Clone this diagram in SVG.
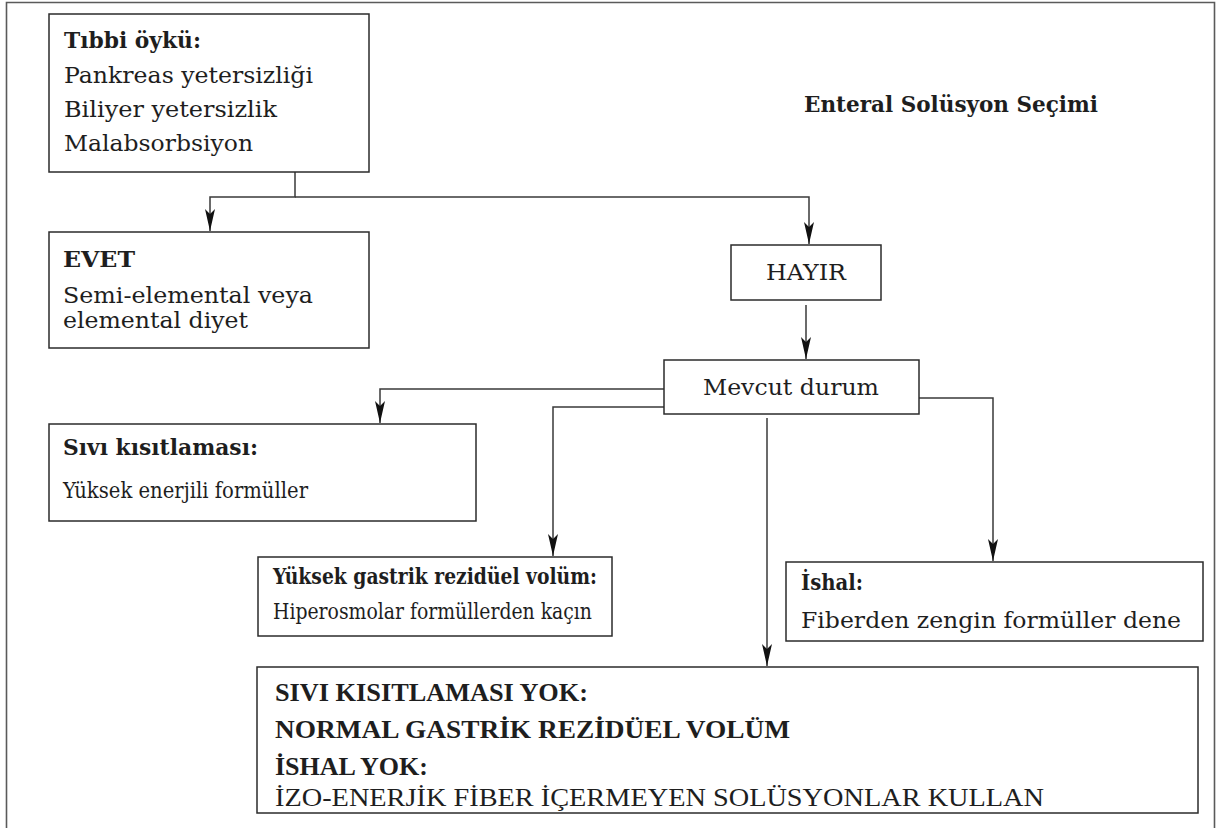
<svg xmlns="http://www.w3.org/2000/svg" width="1217" height="828" viewBox="0 0 1217 828">
  <defs>
    <style>
      .box { fill: #ffffff; stroke: #2b2b2b; stroke-width: 1.5; }
      .frame { fill: none; stroke: #5a5a5a; stroke-width: 1.6; }
      .conn { fill: none; stroke: #3a3a3a; stroke-width: 1.5; }
      .t { font-family: "DejaVu Serif", "Liberation Serif", serif; font-size: 22px; fill: #1e1e1e; }
      .b { font-family: "DejaVu Serif", "Liberation Serif", serif; font-size: 22px; font-weight: bold; fill: #1e1e1e; }
      .cb { font-family: "Liberation Serif", serif; font-size: 26px; font-weight: bold; fill: #1e1e1e; }
      .cr { font-family: "Liberation Serif", serif; font-size: 26px; fill: #1e1e1e; }
    </style>
    <marker id="arr" markerUnits="userSpaceOnUse" markerWidth="24" markerHeight="12" viewBox="-23 -6 24 12" refX="0" refY="0" orient="auto">
      <path d="M0,0 L-22,-5 L-17,0 L-22,5 Z" fill="#111111"/>
    </marker>
  </defs>
  <rect width="1217" height="828" fill="#ffffff"/>
  <path class="frame" d="M6.5,828 V2.5 H1214.5 V828"/>

  <text id="title" class="b" x="804" y="112" textLength="294" lengthAdjust="spacingAndGlyphs">Enteral Solüsyon Seçimi</text>

  <g id="connectors">
    <path class="conn" d="M295,172 V197 H210 V231" marker-end="url(#arr)"/>
    <path class="conn" d="M295,197 H809 V244" marker-end="url(#arr)"/>
    <path class="conn" d="M806,305 V359" marker-end="url(#arr)"/>
    <path class="conn" d="M664,389 H380 V423" marker-end="url(#arr)"/>
    <path class="conn" d="M664,407 H553 V556" marker-end="url(#arr)"/>
    <path class="conn" d="M767,418 V666" marker-end="url(#arr)"/>
    <path class="conn" d="M919,398 H993 V561" marker-end="url(#arr)"/>
  </g>

  <g id="tibbi">
    <rect class="box" x="49" y="14" width="320" height="158"/>
    <text class="b" x="64" y="48" textLength="137" lengthAdjust="spacingAndGlyphs">Tıbbi öykü:</text>
    <text class="t" x="64" y="83" textLength="249" lengthAdjust="spacingAndGlyphs">Pankreas yetersizliği</text>
    <text class="t" x="64" y="117" textLength="213" lengthAdjust="spacingAndGlyphs">Biliyer yetersizlik</text>
    <text class="t" x="64" y="151" textLength="189" lengthAdjust="spacingAndGlyphs">Malabsorbsiyon</text>
  </g>

  <g id="evet">
    <rect class="box" x="49" y="232" width="320" height="116"/>
    <text class="b" x="63" y="267" textLength="72" lengthAdjust="spacingAndGlyphs">EVET</text>
    <text class="t" x="63" y="303" textLength="250" lengthAdjust="spacingAndGlyphs">Semi-elemental veya</text>
    <text class="t" x="63" y="328" textLength="185" lengthAdjust="spacingAndGlyphs">elemental diyet</text>
  </g>

  <g id="hayir">
    <rect class="box" x="731" y="245" width="150" height="55"/>
    <text class="t" x="806" y="280" text-anchor="middle" textLength="80" lengthAdjust="spacingAndGlyphs">HAYIR</text>
  </g>

  <g id="mevcut">
    <rect class="box" x="664" y="360" width="255" height="54"/>
    <text class="t" x="791" y="395" text-anchor="middle" textLength="176" lengthAdjust="spacingAndGlyphs">Mevcut durum</text>
  </g>

  <g id="sivi">
    <rect class="box" x="49" y="424" width="427" height="97"/>
    <text class="b" x="63" y="455" textLength="195" lengthAdjust="spacingAndGlyphs">Sıvı kısıtlaması:</text>
    <text class="t" x="63" y="498" textLength="245" lengthAdjust="spacingAndGlyphs">Yüksek enerjili formüller</text>
  </g>

  <g id="yuksek">
    <rect class="box" x="258" y="557" width="354" height="79"/>
    <text class="b" x="273" y="584" textLength="324" lengthAdjust="spacingAndGlyphs">Yüksek gastrik rezidüel volüm:</text>
    <text class="t" x="273" y="619" textLength="319" lengthAdjust="spacingAndGlyphs">Hiperosmolar formüllerden kaçın</text>
  </g>

  <g id="ishal">
    <rect class="box" x="786" y="562" width="417" height="79"/>
    <text class="b" x="801" y="590" textLength="62" lengthAdjust="spacingAndGlyphs">İshal:</text>
    <text class="t" x="801" y="628" textLength="380" lengthAdjust="spacingAndGlyphs">Fiberden zengin formüller dene</text>
  </g>

  <g id="normal">
    <rect class="box" x="257" y="667" width="941" height="146"/>
    <text class="cb" x="275" y="701" textLength="313" lengthAdjust="spacingAndGlyphs">SIVI KISITLAMASI YOK:</text>
    <text class="cb" x="275" y="738" textLength="515" lengthAdjust="spacingAndGlyphs">NORMAL GASTRİK REZİDÜEL VOLÜM</text>
    <text class="cb" x="275" y="775" textLength="153" lengthAdjust="spacingAndGlyphs">İSHAL YOK:</text>
    <text class="cr" x="275" y="806" textLength="769" lengthAdjust="spacingAndGlyphs">İZO-ENERJİK FİBER İÇERMEYEN SOLÜSYONLAR KULLAN</text>
  </g>
</svg>
